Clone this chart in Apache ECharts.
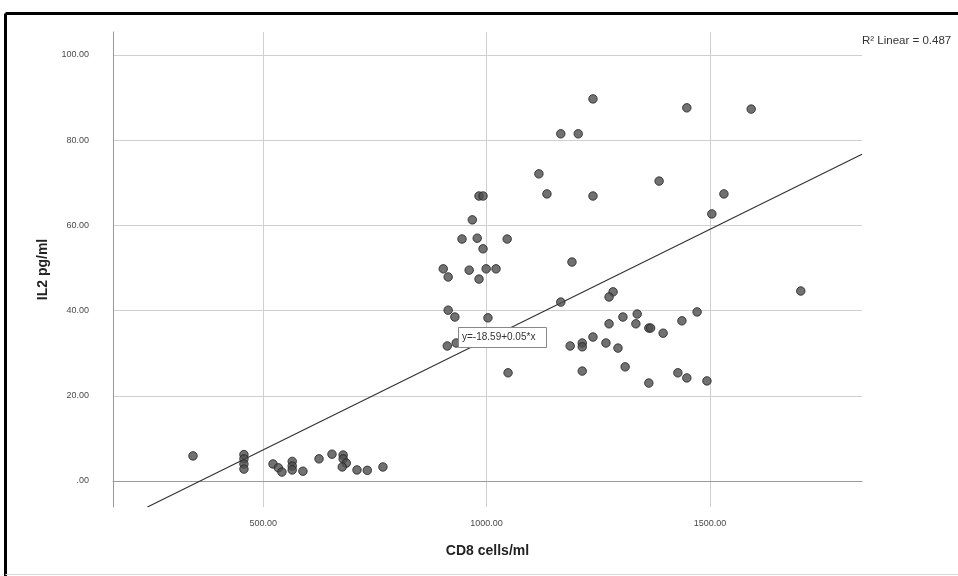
<!DOCTYPE html>
<html>
<head>
<meta charset="utf-8">
<script src="https://cdn.jsdelivr.net/npm/echarts@6/dist/echarts.min.js"></script>
<style>html,body{margin:0;padding:0;background:#fff;}#c{width:958px;height:576px;}</style>
</head>
<body>
<div id="c"></div>
<script>
// CD8 cells/ml values
const cd8 = [
  343, 457, 457, 457, 457, 522, 534, 542, 565, 565, 565, 589, 625, 654, 679, 679, 686, 677, 710, 733, 768,
  983, 992, 968, 945, 979, 1046, 992, 903, 914, 961, 999, 1021, 983, 914, 929, 1003, 912, 932, 1048,
  1238, 1166, 1205, 1448, 1592, 1117, 1135, 1238, 1386, 1531, 1504, 1191,
  1166, 1283, 1274, 1471, 1437, 1305, 1337, 1334, 1274, 1363, 1367, 1395, 1238, 1187, 1214, 1214, 1267, 1294,
  1214, 1310, 1363, 1428, 1448, 1493, 1703
];
// IL2 pg/ml values
const il2 = [
  5.9, 6.2, 5.2, 4.0, 2.8, 4.0, 3.1, 2.1, 4.6, 3.5, 2.6, 2.3, 5.2, 6.3, 6.1, 5.2, 4.2, 3.3, 2.6, 2.5, 3.3,
  66.9, 66.9, 61.3, 56.8, 57.0, 56.8, 54.5, 49.8, 47.9, 49.5, 49.8, 49.8, 47.4, 40.1, 38.5, 38.3, 31.7, 32.4, 25.4,
  89.7, 81.5, 81.5, 87.6, 87.3, 72.1, 67.4, 66.9, 70.4, 67.4, 62.7, 51.4,
  42.0, 44.4, 43.2, 39.7, 37.6, 38.5, 39.2, 36.9, 36.9, 35.9, 35.9, 34.7, 33.8, 31.7, 32.4, 31.5, 32.4, 31.2,
  25.8, 26.8, 23.0, 25.4, 24.2, 23.5, 44.6
];
const xTicks = [500, 1000, 1500];
const yTicks = [0, 20, 40, 60, 80, 100];
const fitIntercept = -18.59;
const fitSlope = 0.0518;
const r2Text = 'R\u00b2 Linear = 0.487';
const eqText = 'y=-18.59+0.05*x';

const xMin = 164, xMax = 1840, yMin = -6.1, yMax = 105.4;
const pts = cd8.map((v, i) => [v, il2[i]]);
const xStart = (yMin - fitIntercept) / fitSlope;
const fitLine = [[xStart, yMin], [xMax, fitIntercept + fitSlope * xMax]];

const fmt = v => (v === 0 ? '.00' : v.toFixed(2));
const chart = echarts.init(document.getElementById('c'));
chart.setOption({
  animation: false,
  backgroundColor: '#fff',
  grid: { left: 113, right: 96, top: 32, bottom: 69 },
  xAxis: {
    type: 'value', min: xMin, max: xMax,
    name: 'CD8 cells/ml', nameLocation: 'middle', nameGap: 37,
    nameTextStyle: { fontFamily: 'Liberation Sans', fontSize: 14, fontWeight: 'bold', color: '#222' },
    axisLine: { show: true, lineStyle: { color: '#999', width: 1 } },
    axisTick: { show: false, customValues: xTicks },
    axisLabel: { customValues: xTicks, formatter: fmt, fontFamily: 'Liberation Sans', fontSize: 9, color: '#4a4a4a', margin: 12 },
    splitLine: { show: true, lineStyle: { color: '#cfcfcf', width: 1 } }
  },
  yAxis: {
    type: 'value', min: yMin, max: yMax,
    name: 'IL2 pg/ml', nameLocation: 'middle', nameGap: 56,
    nameTextStyle: { fontFamily: 'Liberation Sans', fontSize: 14, fontWeight: 'bold', color: '#222' },
    axisLine: { show: true, lineStyle: { color: '#999', width: 1 } },
    axisTick: { show: false, customValues: yTicks },
    axisLabel: { customValues: yTicks, formatter: fmt, fontFamily: 'Liberation Sans', fontSize: 9, color: '#4a4a4a', margin: 24 },
    splitLine: { show: true, lineStyle: { color: '#cfcfcf', width: 1 } }
  },
  series: [
    {
      type: 'line', data: fitLine, symbol: 'none', silent: true,
      lineStyle: { color: '#333', width: 1.2 }, z: 2
    },
    {
      type: 'scatter', data: pts, symbolSize: 8.5,
      itemStyle: { color: '#4e4e4e', borderColor: '#222', borderWidth: 1 }, z: 3
    }
  ],
  graphic: [
    { type: 'line', shape: { x1: 5.5, y1: 13.5, x2: 958, y2: 13.5 }, style: { stroke: '#000', lineWidth: 3 }, z: 100 },
    { type: 'line', shape: { x1: 5.5, y1: 13.5, x2: 5.5, y2: 576 }, style: { stroke: '#000', lineWidth: 3 }, z: 100 },
    { type: 'line', shape: { x1: 5.5, y1: 574.5, x2: 958, y2: 574.5 }, style: { stroke: '#d8d8d8', lineWidth: 1 }, z: 100 },
    { type: 'text', left: 862, top: 35, style: { text: r2Text, fontFamily: 'Liberation Sans', fontSize: 11.5, fill: '#333' }, z: 100 },
    { type: 'rect', left: 458, top: 327, z: 100, shape: { x: 0, y: 0, width: 88, height: 20 }, style: { fill: '#fff', stroke: '#888', lineWidth: 1 } },
    { type: 'text', left: 462, top: 332, z: 101, style: { text: eqText, fontFamily: 'Liberation Sans', fontSize: 10, fill: '#333' } }
  ]
});
</script>
</body>
</html>
